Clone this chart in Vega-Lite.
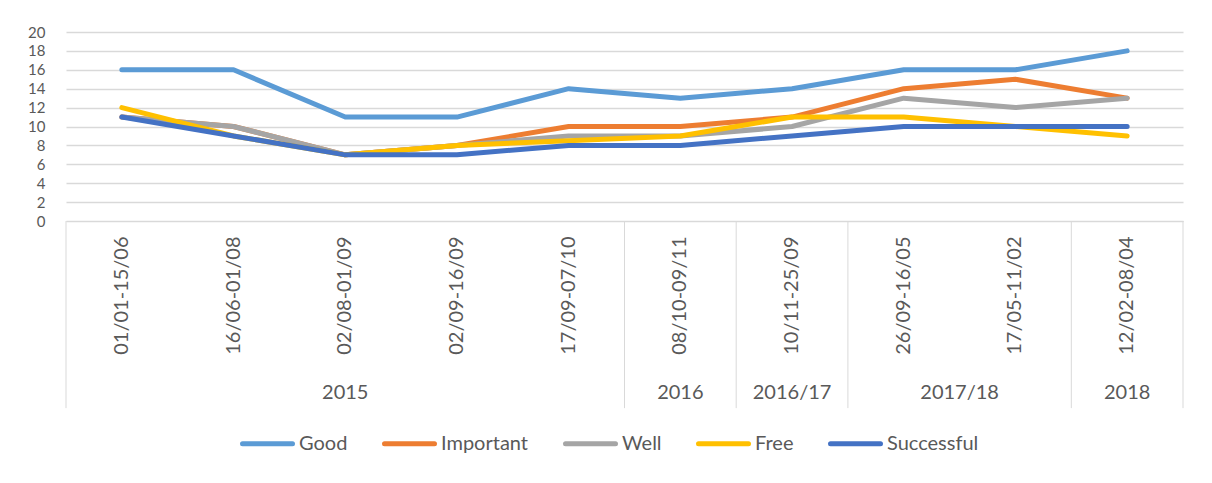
{
  "$schema": "https://vega.github.io/schema/vega-lite/v6.json",
  "width": 1117,
  "height": 189,
  "autosize": {"type": "none"},
  "padding": {"left": 66, "top": 32, "right": 29, "bottom": 262},
  "background": "white",
  "config": {
    "view": {"stroke": null},
    "font": "Lato",
    "axisY": {"labelOverlap": false, "domain": false, "ticks": false,
              "grid": true, "gridColor": "#d9d9d9", "gridWidth": 1.5, "labelPadding": 21,
              "labelFontSize": 15, "labelFont": "Lato", "labelColor": "#595959", "title": null, "tickCount": 20}
  },
  "datasets": {
    "series": [
      {"series": "Good", "period": "01/01-15/06", "value": 16},
      {"series": "Good", "period": "16/06-01/08", "value": 16},
      {"series": "Good", "period": "02/08-01/09", "value": 11},
      {"series": "Good", "period": "02/09-16/09", "value": 11},
      {"series": "Good", "period": "17/09-07/10", "value": 14},
      {"series": "Good", "period": "08/10-09/11", "value": 13},
      {"series": "Good", "period": "10/11-25/09", "value": 14},
      {"series": "Good", "period": "26/09-16/05", "value": 16},
      {"series": "Good", "period": "17/05-11/02", "value": 16},
      {"series": "Good", "period": "12/02-08/04", "value": 18},
      {"series": "Important", "period": "01/01-15/06", "value": 11},
      {"series": "Important", "period": "16/06-01/08", "value": 10},
      {"series": "Important", "period": "02/08-01/09", "value": 7},
      {"series": "Important", "period": "02/09-16/09", "value": 8},
      {"series": "Important", "period": "17/09-07/10", "value": 10},
      {"series": "Important", "period": "08/10-09/11", "value": 10},
      {"series": "Important", "period": "10/11-25/09", "value": 11},
      {"series": "Important", "period": "26/09-16/05", "value": 14},
      {"series": "Important", "period": "17/05-11/02", "value": 15},
      {"series": "Important", "period": "12/02-08/04", "value": 13},
      {"series": "Well", "period": "01/01-15/06", "value": 11},
      {"series": "Well", "period": "16/06-01/08", "value": 10},
      {"series": "Well", "period": "02/08-01/09", "value": 7},
      {"series": "Well", "period": "02/09-16/09", "value": 8},
      {"series": "Well", "period": "17/09-07/10", "value": 9},
      {"series": "Well", "period": "08/10-09/11", "value": 9},
      {"series": "Well", "period": "10/11-25/09", "value": 10},
      {"series": "Well", "period": "26/09-16/05", "value": 13},
      {"series": "Well", "period": "17/05-11/02", "value": 12},
      {"series": "Well", "period": "12/02-08/04", "value": 13},
      {"series": "Free", "period": "01/01-15/06", "value": 12},
      {"series": "Free", "period": "16/06-01/08", "value": 9},
      {"series": "Free", "period": "02/08-01/09", "value": 7},
      {"series": "Free", "period": "02/09-16/09", "value": 8},
      {"series": "Free", "period": "17/09-07/10", "value": 8.5},
      {"series": "Free", "period": "08/10-09/11", "value": 9},
      {"series": "Free", "period": "10/11-25/09", "value": 11},
      {"series": "Free", "period": "26/09-16/05", "value": 11},
      {"series": "Free", "period": "17/05-11/02", "value": 10},
      {"series": "Free", "period": "12/02-08/04", "value": 9},
      {"series": "Successful", "period": "01/01-15/06", "value": 11},
      {"series": "Successful", "period": "16/06-01/08", "value": 9},
      {"series": "Successful", "period": "02/08-01/09", "value": 7},
      {"series": "Successful", "period": "02/09-16/09", "value": 7},
      {"series": "Successful", "period": "17/09-07/10", "value": 8},
      {"series": "Successful", "period": "08/10-09/11", "value": 8},
      {"series": "Successful", "period": "10/11-25/09", "value": 9},
      {"series": "Successful", "period": "26/09-16/05", "value": 10},
      {"series": "Successful", "period": "17/05-11/02", "value": 10},
      {"series": "Successful", "period": "12/02-08/04", "value": 10}
    ],
    "groups": [
      {"group": "2015", "first": "01/01-15/06", "mid": "02/08-01/09", "last": "17/09-07/10"},
      {"group": "2016", "first": "08/10-09/11", "mid": "08/10-09/11", "last": "08/10-09/11"},
      {"group": "2016/17", "first": "10/11-25/09", "mid": "10/11-25/09", "last": "10/11-25/09"},
      {"group": "2017/18", "first": "26/09-16/05", "mid": "17/05-11/02", "last": "17/05-11/02"},
      {"group": "2018", "first": "12/02-08/04", "mid": "12/02-08/04", "last": "12/02-08/04"}
    ]
  },
  "layer": [
    {
      "data": {"name": "series"},
      "mark": {"type": "line", "strokeWidth": 5, "strokeCap": "round", "strokeJoin": "round"},
      "encoding": {
        "x": {"field": "period", "type": "nominal", "bandPosition": 0.5, "sort": null,
              "scale": {"type": "band", "paddingInner": 0, "paddingOuter": 0,
                        "domain": ["01/01-15/06", "16/06-01/08", "02/08-01/09", "02/09-16/09", "17/09-07/10", "08/10-09/11", "10/11-25/09", "26/09-16/05", "17/05-11/02", "12/02-08/04"]},
              "axis": {"title": null, "labelAngle": 270, "labelAlign": "right", "labelBaseline": "middle",
                       "labelPadding": 15, "ticks": false, "domain": true, "domainColor": "#d9d9d9", "domainWidth": 1,
                       "labelFontSize": 20, "labelFont": "Lato", "labelColor": "#595959", "labelOverlap": false, "grid": false}},
        "y": {"field": "value", "type": "quantitative",
              "scale": {"domain": [0, 20], "nice": false},
              "axis": {"title": null, "values": [0, 2, 4, 6, 8, 10, 12, 14, 16, 18, 20], "tickCount": 20, "labelOverlap": false}},
        "color": {"field": "series", "type": "nominal",
                  "scale": {"domain": ["Good", "Important", "Well", "Free", "Successful"],
                            "range": ["#5B9BD5", "#ED7D31", "#A5A5A5", "#FFC000", "#4472C4"]},
                  "legend": {"orient": "none", "legendX": 174, "legendY": 384, "direction": "horizontal", "title": null,
                             "symbolType": "stroke", "symbolSize": 2500, "symbolStrokeWidth": 5,
                             "labelFontSize": 20, "labelFont": "Lato", "labelColor": "#595959", "labelOffset": 4,
                             "columnPadding": 26,
                             "encode": {"symbols": {"update": {"strokeCap": {"value": "round"}}}}}}
      }
    },
    {
      "data": {"name": "groups"},
      "mark": {"type": "rule", "color": "#d9d9d9", "strokeWidth": 1},
      "encoding": {
        "x": {"field": "first", "type": "nominal", "bandPosition": 0},
        "y": {"datum": 0, "type": "quantitative", "axis": {"title": null, "values": [0, 2, 4, 6, 8, 10, 12, 14, 16, 18, 20], "tickCount": 20, "labelOverlap": false}},
        "y2": {"datum": -19.8}
      }
    },
    {
      "data": {"name": "groups"},
      "transform": [{"filter": "datum.group === '2018'"}],
      "mark": {"type": "rule", "color": "#d9d9d9", "strokeWidth": 1},
      "encoding": {
        "x": {"field": "last", "type": "nominal", "bandPosition": 1},
        "y": {"datum": 0, "type": "quantitative", "axis": {"title": null, "values": [0, 2, 4, 6, 8, 10, 12, 14, 16, 18, 20], "tickCount": 20, "labelOverlap": false}},
        "y2": {"datum": -19.8}
      }
    },
    {
      "data": {"name": "groups"},
      "transform": [{"filter": "datum.group !== '2017/18'"}],
      "mark": {"type": "text", "fontSize": 20, "font": "Lato", "color": "#595959", "baseline": "middle", "align": "center"},
      "encoding": {
        "x": {"field": "mid", "type": "nominal", "bandPosition": 0.5},
        "y": {"datum": -18.2, "type": "quantitative", "axis": {"title": null, "values": [0, 2, 4, 6, 8, 10, 12, 14, 16, 18, 20], "tickCount": 20, "labelOverlap": false}},
        "text": {"field": "group"}
      }
    },
    {
      "data": {"name": "groups"},
      "transform": [{"filter": "datum.group === '2017/18'"}],
      "mark": {"type": "text", "fontSize": 20, "font": "Lato", "color": "#595959", "baseline": "middle", "align": "center"},
      "encoding": {
        "x": {"field": "mid", "type": "nominal", "bandPosition": 0},
        "y": {"datum": -18.2, "type": "quantitative", "axis": {"title": null, "values": [0, 2, 4, 6, 8, 10, 12, 14, 16, 18, 20], "tickCount": 20, "labelOverlap": false}},
        "text": {"field": "group"}
      }
    }
  ]
}
